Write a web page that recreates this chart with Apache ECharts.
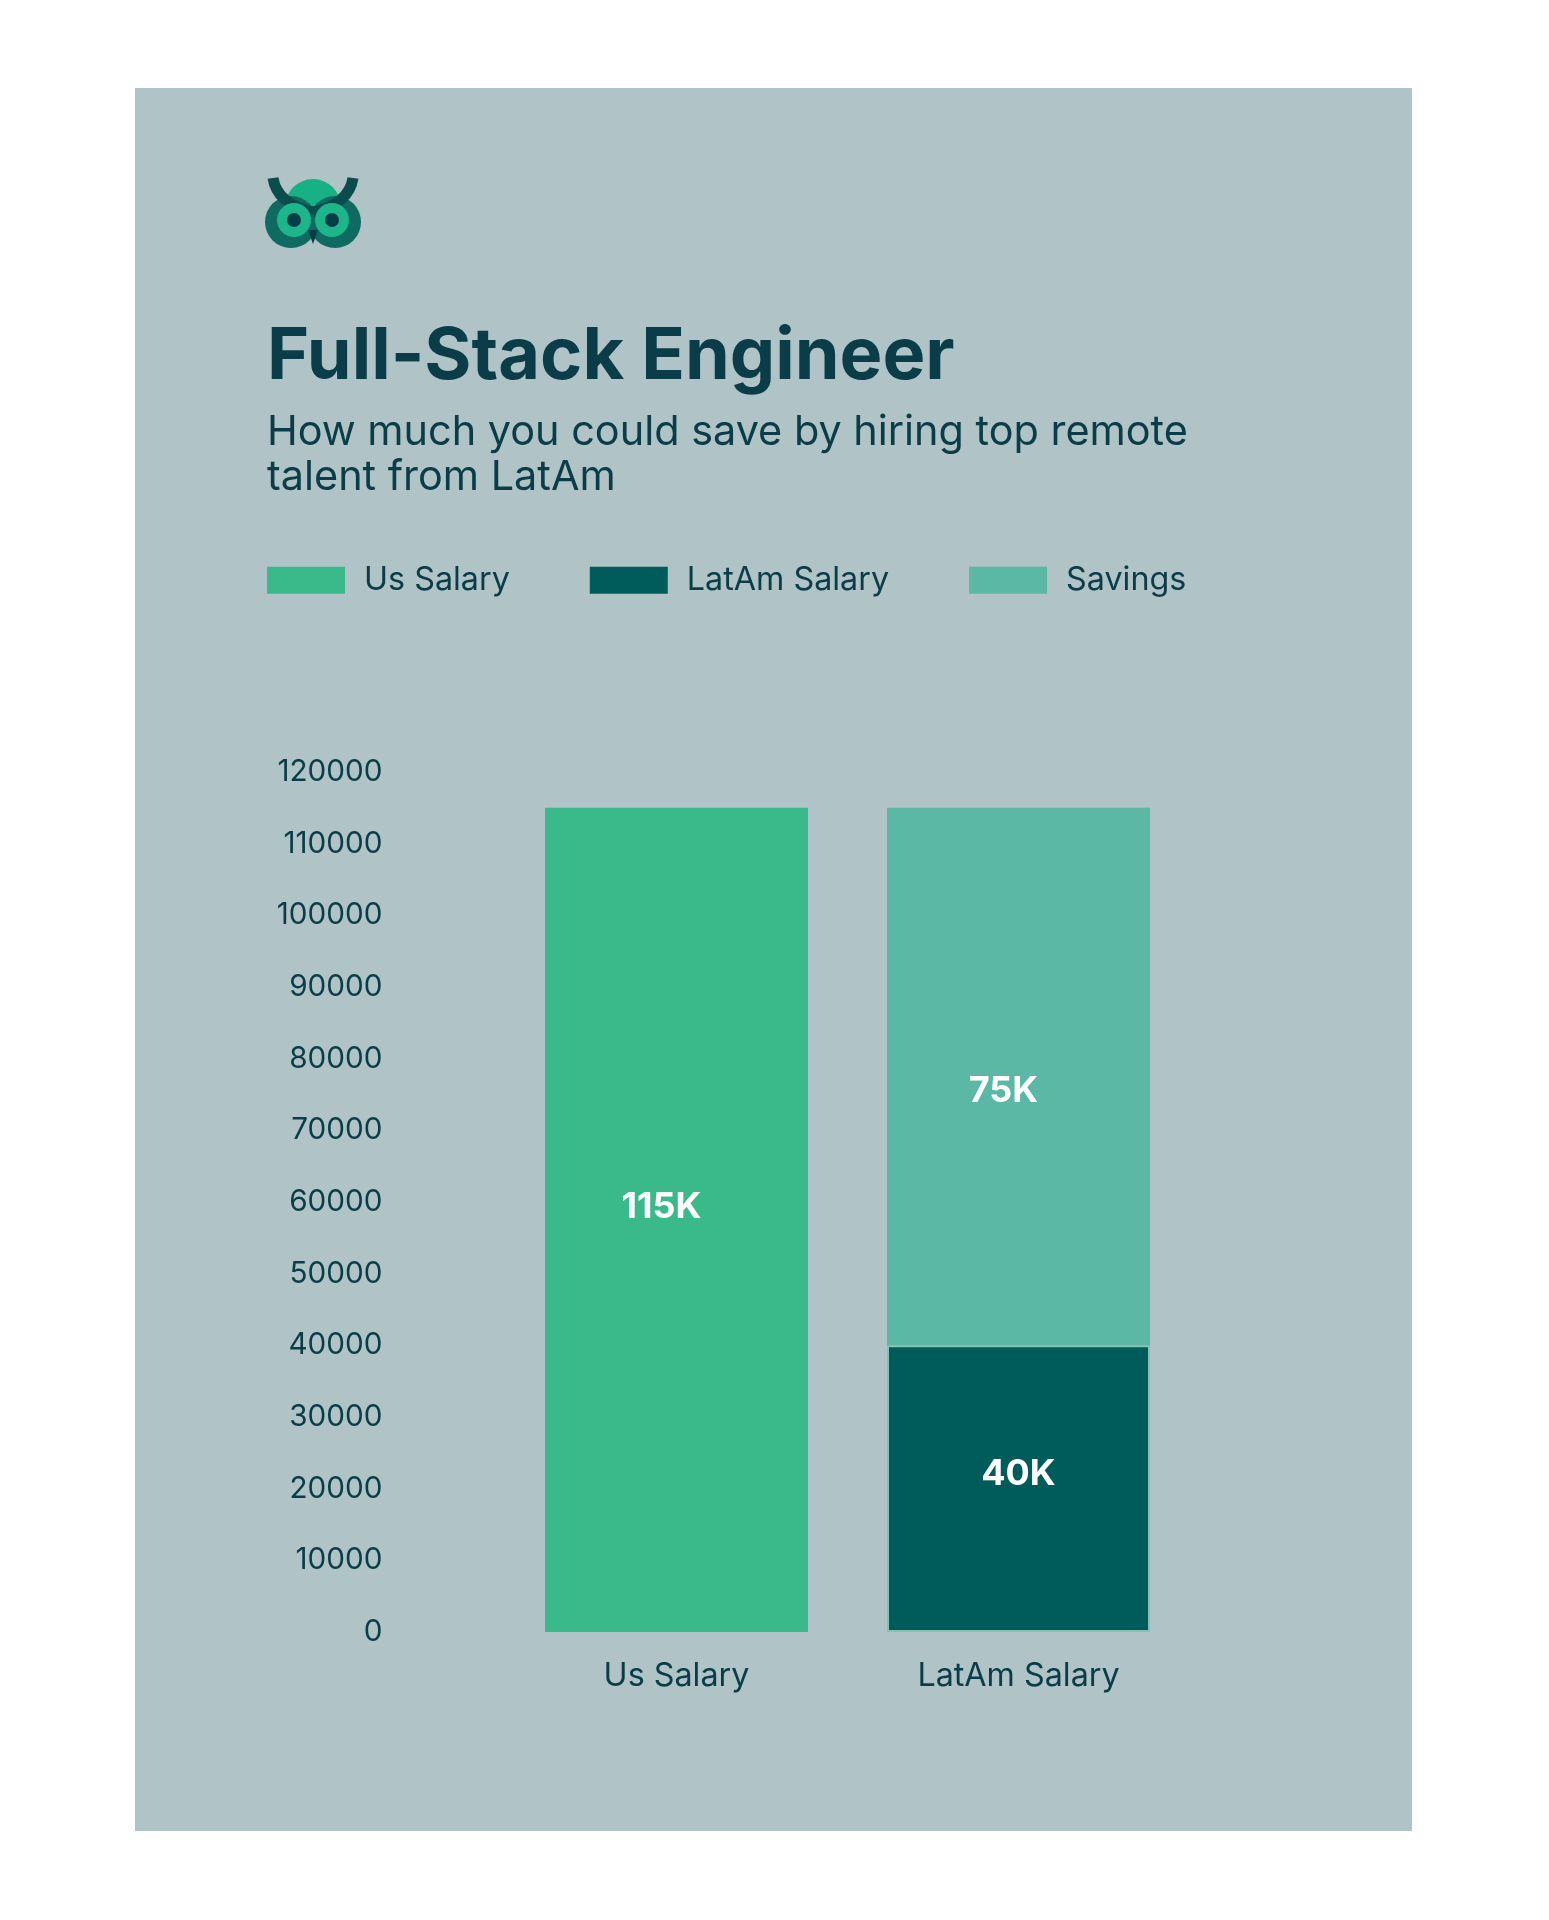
<!DOCTYPE html>
<html>
<head>
<meta charset="utf-8">
<script src="https://cdn.jsdelivr.net/npm/echarts@6/dist/echarts.min.js"></script>
<style>html,body{margin:0;padding:0;background:#fff}#c{width:1549px;height:1920px}</style>
</head>
<body>
<div id="c"></div>
<script>
// ---- data ----
const categories = ['Us Salary', 'LatAm Salary'];
const usSalary = [115000, '-'];
const latamSalary = ['-', 40000];
const savings = ['-', 75000];
const seriesNames = ['Us Salary', 'LatAm Salary', 'Savings'];
const titleText = 'Full-Stack Engineer';
const subtitleLines = ['How much you could save by hiring top remote', 'talent from LatAm'];
const yMin = 0, yMax = 120000, yInterval = 10000;

// ---- styling ----
const FONT = 'Inter';
const TXT = '#0a3d47';
const C_US = '#3aba8a', C_LATAM = '#005c5a', C_SAV = '#5ab8a4';
const mctx = document.createElement('canvas').getContext('2d');
function fitSize(text, weight, width) {
  mctx.font = weight + ' 100px ' + FONT;
  return Math.round(1000 * width / mctx.measureText(text).width) / 10;
}
const titleSize = fitSize(titleText, 'bold', 688);
const subSize = fitSize(subtitleLines[0], 'normal', 922);
const labelSize = fitSize('LatAm Salary', 'normal', 202);
const axisSize = fitSize('120000', 'normal', 105);
const valueSize = fitSize('115K', 'bold', 80);

const chart = echarts.init(document.getElementById('c'), null, {renderer: 'canvas'});
const valueLabel = (offset) => ({
  show: true, position: 'inside', offset: offset,
  formatter: p => (p.value / 1000) + 'K',
  color: '#ffffff', fontWeight: 'bold', fontSize: valueSize, fontFamily: FONT
});
const legendH = Math.max(27, labelSize);

chart.setOption({
  backgroundColor: '#ffffff',
  animation: false,
  title: [
    {text: titleText, left: 267, top: 357 - titleSize / 2, padding: 0,
     textStyle: {fontFamily: FONT, fontWeight: 'bold', fontSize: titleSize, lineHeight: titleSize, color: TXT}},
    {text: subtitleLines.join('\n'), left: 267, top: 410.5, padding: 0,
     textStyle: {fontFamily: FONT, fontWeight: 'normal', fontSize: subSize, lineHeight: 45, color: TXT}}
  ],
  legend: {
    data: seriesNames, left: 267, top: 580.5 - legendH / 2, padding: 0,
    icon: 'rect', itemWidth: 78, itemHeight: 27, itemGap: 80,
    itemStyle: {borderWidth: 0},
    formatter: name => '{a|' + name + '}',
    textStyle: {fontFamily: FONT, fontSize: labelSize, color: TXT,
      rich: {a: {fontFamily: FONT, fontSize: labelSize, color: TXT, padding: [0, 0, 0, 14]}}}
  },
  grid: {left: 505.5, width: 684, top: 772, height: 860, containLabel: false},
  xAxis: {
    type: 'category', data: categories,
    axisLine: {show: false}, axisTick: {show: false}, splitLine: {show: false},
    axisLabel: {fontFamily: FONT, fontSize: labelSize, color: TXT, margin: 28}
  },
  yAxis: {
    type: 'value', min: yMin, max: yMax, interval: yInterval,
    axisLine: {show: false}, axisTick: {show: false}, splitLine: {show: false},
    axisLabel: {fontFamily: FONT, fontSize: axisSize, color: TXT, margin: 123, formatter: v => String(v)}
  },
  series: [
    {name: seriesNames[0], type: 'bar', stack: 'total', barWidth: 263, data: usSalary,
     itemStyle: {color: C_US}, label: valueLabel([-15, -13])},
    {name: seriesNames[1], type: 'bar', stack: 'total', barWidth: 263, data: latamSalary,
     itemStyle: {color: C_LATAM, borderColor: '#86c2b4', borderWidth: 2}, label: valueLabel([0, -14])},
    {name: seriesNames[2], type: 'bar', stack: 'total', barWidth: 263, data: savings,
     itemStyle: {color: C_SAV}, label: valueLabel([-15, 15])}
  ],
  graphic: [
    {type: 'rect', z: -10, silent: true, shape: {x: 135, y: 88, width: 1277, height: 1743}, style: {fill: '#b0c3c6'}},
    // owl logo
    {type: 'circle', z: 100, shape: {cx: 313, cy: 207, r: 28}, style: {fill: '#17b185'}},
    {type: 'circle', z: 101, shape: {cx: 291, cy: 222, r: 26}, style: {fill: '#0f6a62'}},
    {type: 'circle', z: 101, shape: {cx: 335, cy: 222, r: 26}, style: {fill: '#0f6a62'}},
    {type: 'bezierCurve', z: 102, shape: {x1: 273, y1: 178, cpx1: 277, cpy1: 204, x2: 313, y2: 212},
     style: {stroke: '#0b4d4d', lineWidth: 11, fill: null, lineCap: 'butt'}},
    {type: 'bezierCurve', z: 102, shape: {x1: 353, y1: 178, cpx1: 349, cpy1: 204, x2: 313, y2: 212},
     style: {stroke: '#0b4d4d', lineWidth: 11, fill: null, lineCap: 'butt'}},
    {type: 'circle', z: 103, shape: {cx: 294, cy: 220, r: 17}, style: {fill: '#1db58a'}},
    {type: 'circle', z: 103, shape: {cx: 332, cy: 220, r: 17}, style: {fill: '#1db58a'}},
    {type: 'circle', z: 104, shape: {cx: 294, cy: 220, r: 7}, style: {fill: '#043e46'}},
    {type: 'circle', z: 104, shape: {cx: 332, cy: 220, r: 7}, style: {fill: '#043e46'}},
    {type: 'polygon', z: 104, shape: {points: [[308, 230], [318, 230], [313, 244]]}, style: {fill: '#043e46'}}
  ]
});
</script>
</body>
</html>
